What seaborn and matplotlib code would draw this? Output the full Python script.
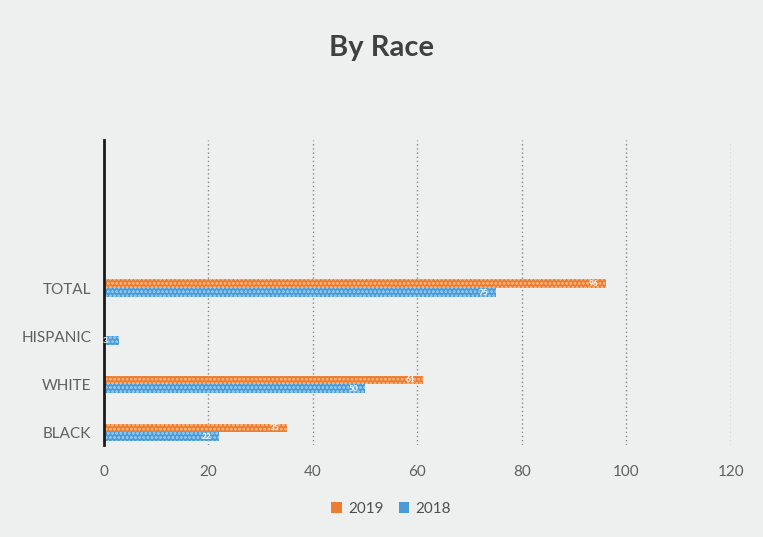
import matplotlib
matplotlib.use("Agg")
import matplotlib.pyplot as plt
import seaborn as sns
import pandas as pd

categories = ["TOTAL", "HISPANIC", "WHITE", "BLACK"]
values_2019 = [96, 0, 61, 35]
values_2018 = [75, 3, 50, 22]
years = ["2019", "2018"]
x_ticks = [0, 20, 40, 60, 80, 100, 120]

df = pd.DataFrame({
    "Race": categories * 2,
    "Value": values_2019 + values_2018,
    "Year": [years[0]] * len(categories) + [years[1]] * len(categories),
})

sns.set_theme(style="white")
plt.rcParams["font.family"] = ["Lato", "DejaVu Sans"]
plt.rcParams["hatch.linewidth"] = 0.6

bg = "#eeefef"
fig = plt.figure(figsize=(7.63, 5.37), dpi=100, facecolor=bg)
ax = fig.add_axes([0.136, 0.171, 0.822, 0.568])
ax.set_facecolor(bg)

palette = {"2019": "#ED7D31", "2018": "#4A9BD8"}
sns.barplot(data=df, y="Race", x="Value", hue="Year", hue_order=years,
            order=categories, orient="h", palette=palette, width=0.36,
            ax=ax, saturation=1, edgecolor="none")

for bars, col in zip(ax.containers, ["#F6B07A", "#8CC4EC"]):
    for b in bars:
        b.set_hatch("oooo")
        b.set_edgecolor(col)
        b.set_linewidth(0)
    labels = [f"{v:g}" if v > 0 else "" for v in bars.datavalues]
    ax.bar_label(bars, labels=labels, label_type="edge", padding=-12,
                 color="white", fontsize=6, fontweight="bold")

ax.set_xlim(0, 120)
ax.set_xticks(x_ticks)
ax.set_ylim(3.27, -3.08)
ax.set_xlabel("")
ax.set_ylabel("")
for s in ["top", "right", "bottom"]:
    ax.spines[s].set_visible(False)
ax.spines["left"].set_color("#1a1a1a")
ax.spines["left"].set_linewidth(2)
ax.tick_params(axis="both", length=0, labelsize=11, labelcolor="#606060")
ax.tick_params(axis="x", pad=14)
ax.tick_params(axis="y", pad=9)
for t in x_ticks[1:]:
    ax.axvline(t, color="#888888", lw=1, ls=(0, (1, 2)), zorder=0)

fig.text(0.5, 0.91, "By Race", ha="center", va="center", fontsize=21,
         fontweight="bold", color="#404040")

ax.legend(loc="upper center", bbox_to_anchor=(0.458, -0.14), ncol=2,
          frameon=False, fontsize=11, handlelength=0.7, handleheight=0.7,
          columnspacing=1.0, handletextpad=0.4, labelcolor="#505050")

fig.savefig("out.png", dpi=100, facecolor=bg)
